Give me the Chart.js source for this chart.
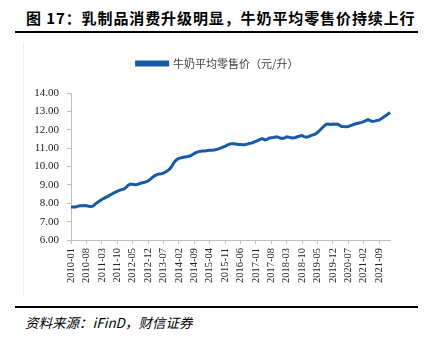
<!DOCTYPE html>
<html>
<head>
<meta charset="utf-8">
<script src="https://cdn.jsdelivr.net/npm/chart.js@4.4.1/dist/chart.umd.min.js"></script>
<style>
  body { margin:0; width:428px; height:344px; background:#fff; position:relative; overflow:hidden; }
  #title { position:absolute; left:26px; top:7px; font:bold 15px "Noto Sans CJK SC"; letter-spacing:0.9px; color:#000; white-space:nowrap; }
  #topline { position:absolute; left:15px; top:31px; width:403px; height:2px; background:#000; }
  #frame { position:absolute; left:23px; top:42px; width:390px; height:255px; border-left:1px solid #eeeeee; }
  #box { position:absolute; left:33px; top:42px; width:380px; height:255px; }
  #botline { position:absolute; left:15px; top:306px; width:403px; height:2px; background:#000; }
  #source { position:absolute; left:25px; top:312px; font:italic 13.5px "Noto Sans CJK SC"; color:#000; white-space:nowrap; }
</style>
</head>
<body>
<div id="title">图 17：乳制品消费升级明显，牛奶平均零售价持续上行</div>
<div id="topline"></div>
<div id="frame"></div>
<div id="box"><canvas id="myChart" width="380" height="255"></canvas></div>
<div id="botline"></div>
<div id="source">资料来源：iFinD，财信证券</div>
<script>
const seriesName = '牛奶平均零售价（元/升）'
const startYear = 2010
const monthCount = 146   // 2010-01 .. 2022-02
const milkPrice = [
  7.80, 7.79, 7.80, 7.83, 7.86, 7.87, 7.88, 7.86, 7.84, 7.82,
  7.84, 7.95, 8.04, 8.12, 8.20, 8.27, 8.33, 8.39, 8.46, 8.53,
  8.59, 8.65, 8.70, 8.74, 8.77, 8.86, 8.98, 9.04, 9.03, 9.01,
  9.02, 9.06, 9.10, 9.13, 9.16, 9.21, 9.30, 9.40, 9.49, 9.56,
  9.59, 9.61, 9.64, 9.70, 9.78, 9.88, 10.05, 10.25, 10.37, 10.44,
  10.47, 10.50, 10.52, 10.54, 10.57, 10.63, 10.70, 10.77, 10.81, 10.83,
  10.85, 10.85, 10.87, 10.88, 10.89, 10.90, 10.92, 10.96, 11.00, 11.05,
  11.10, 11.16, 11.22, 11.24, 11.24, 11.22, 11.20, 11.20, 11.19, 11.19,
  11.22, 11.25, 11.27, 11.32, 11.37, 11.42, 11.48, 11.52, 11.45, 11.47,
  11.54, 11.57, 11.58, 11.60, 11.61, 11.55, 11.53, 11.55, 11.62, 11.60,
  11.56, 11.55, 11.58, 11.62, 11.66, 11.68, 11.63, 11.59, 11.63, 11.68,
  11.72, 11.76, 11.85, 11.96, 12.08, 12.20, 12.30, 12.31, 12.29, 12.31,
  12.30, 12.31, 12.25, 12.18, 12.17, 12.16, 12.17, 12.22, 12.27, 12.31,
  12.34, 12.37, 12.40, 12.44, 12.50, 12.55, 12.50, 12.45, 12.47, 12.50,
  12.52, 12.60, 12.68, 12.76, 12.85, 12.94
]
const labelStep = 7

const months = []
for (let i = 0; i < monthCount; i++) {
  const y = startYear + Math.floor(i / 12)
  const m = (i % 12) + 1
  months.push(y + '-' + (m < 10 ? '0' + m : m))
}

const axisGray = '#bfbfbf'
const lineBlue = '#165aa8'

// push the plot down a bit under the legend, and nudge the legend right
const legendGap = {
  id: 'legendGap',
  beforeInit(chart) {
    const origFit = chart.legend.fit
    chart.legend.fit = function () {
      origFit.bind(chart.legend)()
      this.height += 14
    }
  },
  afterLayout(chart) {
    chart.legend.left += 6
    chart.legend.right += 6
  }
}

var ctx = document.getElementById('myChart').getContext('2d');
var myChart = new Chart(ctx, {
  type: 'line',
  data: {
    labels: months,
    datasets: [{
      label: seriesName,
      data: milkPrice,
      borderColor: lineBlue,
      backgroundColor: lineBlue,
      borderWidth: 3,
      pointRadius: 0,
      tension: 0,
      fill: false
    }]
  },
  plugins: [legendGap],
  options: {
    responsive: false,
    animation: false,
    devicePixelRatio: 1,
    layout: { padding: { top: 0, right: 23, bottom: 0, left: 0 } },
    plugins: {
      legend: {
        display: true,
        position: 'top',
        labels: {
          boxWidth: 31,
          boxHeight: 3,
          padding: 16,
          color: '#404040',
          font: { family: 'Noto Sans CJK SC', size: 11 }
        }
      },
      tooltip: { enabled: false }
    },
    scales: {
      x: {
        type: 'category',
        offset: false,
        grid: { display: true, drawOnChartArea: false, drawTicks: true, tickLength: 4, color: axisGray, offset: false },
        border: { color: axisGray, width: 1 },
        afterBuildTicks: (axis) => {
          axis.ticks = axis.ticks.filter(t => t.value % labelStep === 0)
        },
        afterFit: (scale) => { scale.height = 57 },
        ticks: {
          autoSkip: false,
          minRotation: 90,
          maxRotation: 90,
          padding: 4,
          color: '#222',
          font: { family: 'Liberation Serif', size: 10.5 }
        }
      },
      y: {
        min: 6,
        max: 14,
        grid: { display: true, drawOnChartArea: false, drawTicks: true, tickLength: 4, color: axisGray },
        border: { color: axisGray, width: 1 },
        afterFit: (scale) => { scale.width = 38 },
        ticks: {
          stepSize: 1,
          padding: 8,
          color: '#222',
          font: { family: 'Liberation Serif', size: 11 },
          callback: (v) => Number(v).toFixed(2)
        }
      }
    }
  }
});
</script>
</body>
</html>
